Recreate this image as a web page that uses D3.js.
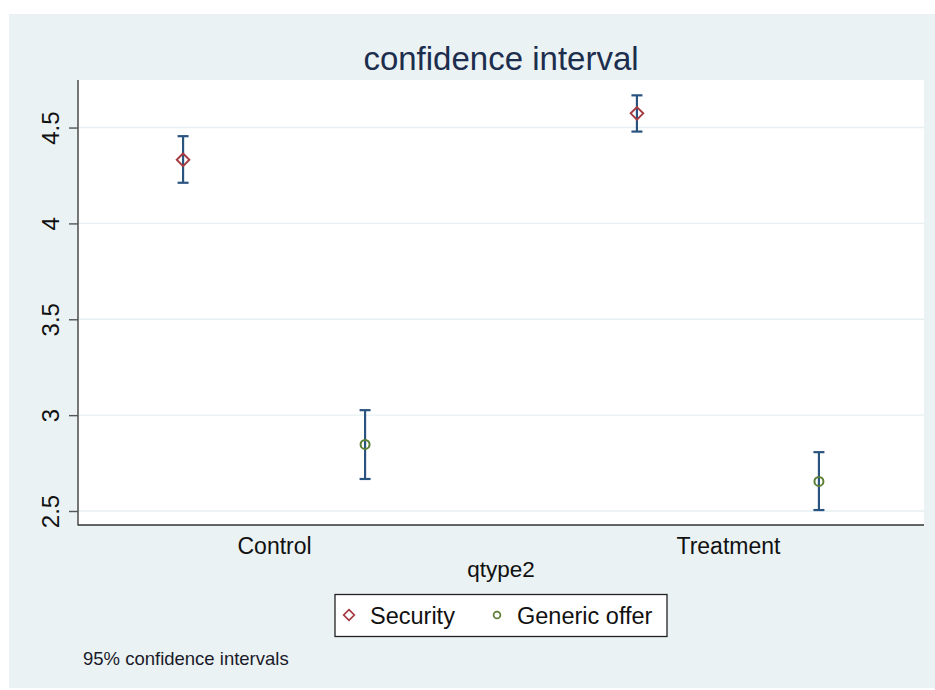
<!DOCTYPE html>
<html>
<head>
<meta charset="utf-8">
<script src="https://cdn.jsdelivr.net/npm/d3@7"></script>
<style>
  html, body { margin: 0; padding: 0; background: #ffffff; }
  svg { display: block; font-family: "Liberation Sans", Arial, sans-serif; }
</style>
</head>
<body>
<svg id="chart" width="935" height="690"></svg>
<script>
// Group means with 95% confidence bounds
const categories = ["Control", "Treatment"];
const seriesNames = ["Security", "Generic offer"];
const securityMean = [4.332, 4.574];
const securityLow  = [4.212, 4.479];
const securityHigh = [4.455, 4.668];
const genericMean  = [2.847, 2.654];
const genericLow   = [2.667, 2.505];
const genericHigh  = [3.026, 2.807];
const yTicks = [2.5, 3, 3.5, 4, 4.5];
const yTickLabels = ["2.5", "3", "3.5", "4", "4.5"];

const W = 935, H = 690;
const plot = { left: 78, right: 924, top: 80, bottom: 525 };

const colors = {
  panel: "#eaf2f3",
  grid: "#e6eff2",
  bar: "#2a5480",
  security: "#a4393f",
  generic: "#5b7f34",
  title: "#1c2d4e"
};

const svg = d3.select("#chart");

// Outer graph region
svg.append("rect").attr("x", 9).attr("y", 14).attr("width", W - 9).attr("height", H - 16)
  .attr("fill", colors.panel);
// Plot region
svg.append("rect").attr("x", plot.left).attr("y", plot.top)
  .attr("width", plot.right - plot.left).attr("height", plot.bottom - plot.top)
  .attr("fill", "#ffffff");

const y = d3.scaleLinear().domain([2.427, 4.748]).range([plot.bottom, plot.top]);
const x0 = d3.scalePoint().domain(categories).range([plot.left, plot.right]).padding(0.432);
const x1 = d3.scalePoint().domain(seriesNames).range([-91, 91]);

// Gridlines
svg.append("g").selectAll("line").data(yTicks).join("line")
  .attr("x1", plot.left).attr("x2", plot.right)
  .attr("y1", d => y(d)).attr("y2", d => y(d))
  .attr("stroke", colors.grid).attr("stroke-width", 1.4);

// Y axis
const yAxis = d3.axisLeft(y).tickValues(yTicks).tickSize(9).tickPadding(8)
  .tickFormat((d, i) => yTickLabels[i]);
const gy = svg.append("g").attr("transform", `translate(${plot.left},0)`).call(yAxis);
gy.select(".domain").remove();
gy.selectAll(".tick line").attr("stroke", "#555").attr("stroke-width", 1.4);
gy.selectAll(".tick text")
  .attr("font-size", 24).attr("fill", "#111")
  .attr("transform", "rotate(-90, -27, 0)")
  .attr("x", -27).attr("dy", "0.35em").attr("y", 0)
  .attr("text-anchor", "middle");

// Y axis line and X axis line
svg.append("line").attr("x1", plot.left).attr("x2", plot.left)
  .attr("y1", plot.top).attr("y2", plot.bottom + 0.5)
  .attr("stroke", "#555").attr("stroke-width", 1.6);
svg.append("line").attr("x1", plot.left).attr("x2", plot.right)
  .attr("y1", plot.bottom).attr("y2", plot.bottom)
  .attr("stroke", "#333").attr("stroke-width", 1.6);

// X axis labels
const xAxis = d3.axisBottom(x0).tickSize(0).tickPadding(13);
const gx = svg.append("g").attr("transform", `translate(0,${plot.bottom})`).call(xAxis);
gx.select(".domain").remove();
gx.selectAll(".tick text").attr("font-size", 23).attr("fill", "#111")
  .attr("font-family", "Liberation Sans, Arial, sans-serif");

// Axis title
svg.append("text").attr("x", (plot.left + plot.right) / 2).attr("y", 577)
  .attr("text-anchor", "middle").attr("font-size", 22.5).attr("fill", "#111")
  .text("qtype2");

// Chart title
svg.append("text").attr("x", (plot.left + plot.right) / 2).attr("y", 70)
  .attr("text-anchor", "middle").attr("font-size", 33).attr("fill", colors.title)
  .text("confidence interval");

// Build rows per series
const series = [
  { name: seriesNames[0], mean: securityMean, low: securityLow, high: securityHigh, color: colors.security, shape: "diamond" },
  { name: seriesNames[1], mean: genericMean, low: genericLow, high: genericHigh, color: colors.generic, shape: "circle" }
];

const capHalf = 5.5;
series.forEach(s => {
  const rows = categories.map((c, i) => ({ c, mean: s.mean[i], low: s.low[i], high: s.high[i] }));
  const g = svg.append("g");
  const px = d => x0(d.c) + x1(s.name);
  // whisker
  g.selectAll(".v").data(rows).join("line")
    .attr("x1", px).attr("x2", px)
    .attr("y1", d => y(d.low)).attr("y2", d => y(d.high))
    .attr("stroke", colors.bar).attr("stroke-width", 2.2);
  g.selectAll(".t").data(rows).join("line")
    .attr("x1", d => px(d) - capHalf).attr("x2", d => px(d) + capHalf)
    .attr("y1", d => y(d.high)).attr("y2", d => y(d.high))
    .attr("stroke", colors.bar).attr("stroke-width", 2.2);
  g.selectAll(".b").data(rows).join("line")
    .attr("x1", d => px(d) - capHalf).attr("x2", d => px(d) + capHalf)
    .attr("y1", d => y(d.low)).attr("y2", d => y(d.low))
    .attr("stroke", colors.bar).attr("stroke-width", 2.2);
  // markers
  if (s.shape === "circle") {
    g.selectAll(".m").data(rows).join("circle")
      .attr("cx", px).attr("cy", d => y(d.mean)).attr("r", 4.5)
      .attr("fill", "none").attr("stroke", s.color).attr("stroke-width", 2);
  } else {
    g.selectAll(".m").data(rows).join("path")
      .attr("transform", d => `translate(${px(d)},${y(d.mean)})`)
      .attr("d", "M0,-6.3 L6.3,0 L0,6.3 L-6.3,0 Z")
      .attr("fill", "none").attr("stroke", s.color).attr("stroke-width", 1.9);
  }
});

// Legend
const lg = svg.append("g");
lg.append("rect").attr("x", 335).attr("y", 594.5).attr("width", 332).attr("height", 42)
  .attr("fill", "#ffffff").attr("stroke", "#222").attr("stroke-width", 1.3);
const legendItems = [
  { name: seriesNames[0], mx: 349, tx: 370, color: colors.security, shape: "diamond" },
  { name: seriesNames[1], mx: 497, tx: 517, color: colors.generic, shape: "circle" }
];
legendItems.forEach(it => {
  if (it.shape === "circle") {
    lg.append("circle").attr("cx", it.mx).attr("cy", 615).attr("r", 3.4)
      .attr("fill", "none").attr("stroke", it.color).attr("stroke-width", 1.7);
  } else {
    lg.append("path").attr("transform", `translate(${it.mx},615)`)
      .attr("d", "M0,-5.3 L5.3,0 L0,5.3 L-5.3,0 Z")
      .attr("fill", "none").attr("stroke", it.color).attr("stroke-width", 1.7);
  }
  lg.append("text").attr("x", it.tx).attr("y", 623.5).attr("font-size", 23.5).attr("fill", "#111")
    .text(it.name);
});

// Note
svg.append("text").attr("x", 83).attr("y", 665).attr("font-size", 18.5).attr("fill", "#1a1a2a")
  .text("95% confidence intervals");
</script>
</body>
</html>
